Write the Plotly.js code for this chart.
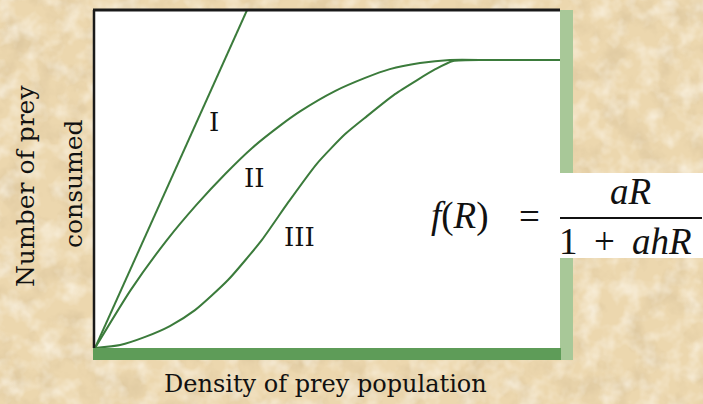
<!DOCTYPE html>
<html>
<head>
<meta charset="utf-8">
<script src="https://cdn.plot.ly/plotly-3.0.1.min.js"></script>
<style>
  html, body { margin: 0; padding: 0; }
  body {
    width: 703px; height: 404px; overflow: hidden;
    background-color: #ecd7ae;
    background-image: url("data:image/svg+xml;utf8,<svg xmlns='http://www.w3.org/2000/svg' width='703' height='404'><filter id='d'><feTurbulence type='fractalNoise' baseFrequency='0.035' numOctaves='4' seed='3'/><feColorMatrix type='matrix' values='0 0 0 0 0.62  0 0 0 0 0.48  0 0 0 0 0.28  1.1 0 0 0 -0.5'/></filter><filter id='l'><feTurbulence type='fractalNoise' baseFrequency='0.05' numOctaves='3' seed='11'/><feColorMatrix type='matrix' values='0 0 0 0 1  0 0 0 0 0.97  0 0 0 0 0.9  1.3 0 0 0 -0.55'/></filter><rect width='100%' height='100%' filter='url(%23d)'/><rect width='100%' height='100%' filter='url(%23l)'/></svg>");
  }
  #chart { width: 703px; height: 404px; }
</style>
</head>
<body>
<div id="chart"></div>
<script>
// Functional responses: prey consumed vs. prey density (arbitrary units 0-10)
const typeIx   = [0, 3.27];
const typeIy   = [0, 10];

const typeIIx  = [0, 0.77, 1.55, 2.19, 2.80, 3.38, 3.98, 4.41, 5.16, 5.81, 6.34, 6.99, 7.63, 8.5, 10];
const typeIIy  = [0, 1.72, 3.20, 4.25, 5.15, 5.92, 6.58, 7.00, 7.60, 7.99, 8.25, 8.43, 8.52, 8.52, 8.52];

const typeIIIx = [0, 0.54, 1.08, 1.61, 2.15, 2.86, 3.59, 4.15, 4.77, 5.38, 5.85, 6.45, 6.92, 7.31, 7.70, 8.5, 10];
const typeIIIy = [0, 0.09, 0.33, 0.65, 1.12, 2.01, 3.20, 4.30, 5.45, 6.33, 6.86, 7.51, 7.92, 8.24, 8.49, 8.52, 8.52];

const curveLabels = ['I', 'II', 'III'];
const labelX = [2.56, 3.42, 4.39];
const labelY = [6.69, 5.03, 3.28];

const green = '#3b7b3b';
const serif = 'DejaVu Serif, serif';
const mathSerif = 'Liberation Serif, serif';

const mk = (x, y) => ({
  x, y, type: 'scatter', mode: 'lines',
  line: { color: green, width: 2, shape: 'spline', smoothing: 0.6 },
  hoverinfo: 'skip', showlegend: false
});

const traces = [mk(typeIx, typeIy), mk(typeIIx, typeIIy), mk(typeIIIx, typeIIIy)];

const px = v => (v - 95) / 465;   // page x -> paper x
const py = v => (348 - v) / 338;  // page y -> paper y

const note = (x, y, text, font, extra) => Object.assign({
  xref: 'paper', yref: 'paper', x: px(x), y: py(y), text,
  showarrow: false, xanchor: 'center', yanchor: 'middle', font
}, extra || {});

const annotations = curveLabels.map((t, i) => ({
  x: labelX[i], y: labelY[i], xref: 'x', yref: 'y', text: t, showarrow: false,
  xanchor: 'center', yanchor: 'middle',
  font: { family: serif, size: 26, color: '#111' }
}));

// Axis titles
const titleFont = { family: serif, size: 25, color: '#111' };
annotations.push(
  note(25, 186, 'Number of prey', titleFont, { textangle: -90 }),
  note(73, 184, 'consumed', titleFont, { textangle: -90 }),
  note(325, 384, 'Density of prey population', { family: serif, size: 24, color: '#111' })
);

// Holling type II formula
const mathFont = { family: mathSerif, size: 37, color: '#111' };
annotations.push(
  note(460, 216, '<i>f</i>(<i>R</i>)', mathFont),
  note(529, 216, '=', mathFont),
  note(630, 191, '<i>aR</i>', mathFont),
  note(568, 242, '1', mathFont),
  note(604, 242, '+', mathFont),
  note(662, 242, '<i>ahR</i>', mathFont)
);

const shapes = [
  // light green right edge
  { type: 'rect', xref: 'paper', yref: 'paper', x0: px(560), x1: px(573), y0: py(360), y1: py(10),
    fillcolor: '#a8c898', line: { width: 0 }, layer: 'above' },
  // dark green base
  { type: 'rect', xref: 'paper', yref: 'paper', x0: px(93), x1: px(561), y0: py(360), y1: py(348),
    fillcolor: '#5e9c58', line: { width: 0 }, layer: 'above' },
  // black top and left edges
  { type: 'line', xref: 'paper', yref: 'paper', x0: px(93), x1: px(560), y0: py(10), y1: py(10),
    line: { color: '#1a1a1a', width: 3 }, layer: 'above' },
  { type: 'line', xref: 'paper', yref: 'paper', x0: px(94), x1: px(94), y0: py(10), y1: py(348),
    line: { color: '#1a1a1a', width: 2.5 }, layer: 'above' },
  // white panel behind the formula denominator
  { type: 'rect', xref: 'paper', yref: 'paper', x0: px(558), x1: px(703), y0: py(258), y1: py(173),
    fillcolor: '#ffffff', line: { width: 0 }, layer: 'above' },
  // fraction bar
  { type: 'line', xref: 'paper', yref: 'paper', x0: px(560), x1: px(702), y0: py(218), y1: py(218),
    line: { color: '#111', width: 2 }, layer: 'above' }
];

const layout = {
  width: 703, height: 404,
  margin: { l: 95, r: 143, t: 10, b: 56, pad: 0 },
  paper_bgcolor: 'rgba(0,0,0,0)',
  plot_bgcolor: '#ffffff',
  xaxis: { range: [0, 10], showgrid: false, zeroline: false, showticklabels: false, ticks: '', showline: false, fixedrange: true },
  yaxis: { range: [0, 10], showgrid: false, zeroline: false, showticklabels: false, ticks: '', showline: false, fixedrange: true },
  showlegend: false,
  annotations, shapes
};

Plotly.newPlot('chart', traces, layout, { displayModeBar: false, staticPlot: true });
</script>
</body>
</html>
